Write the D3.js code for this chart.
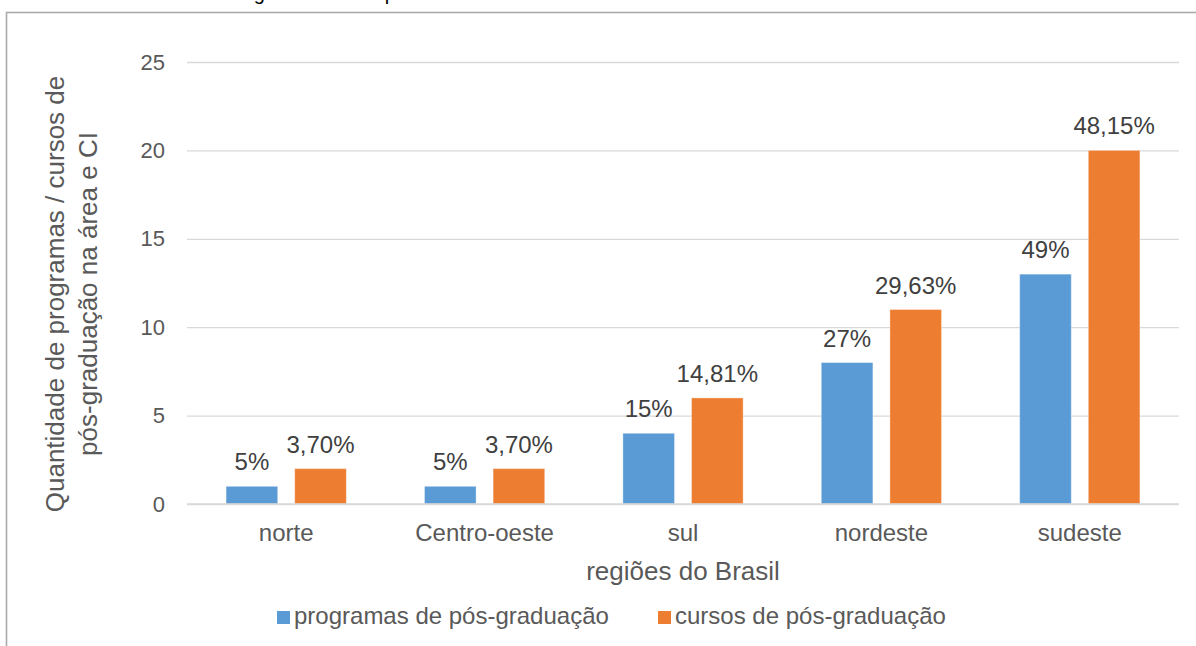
<!DOCTYPE html>
<html>
<head>
<meta charset="utf-8">
<script src="https://cdn.jsdelivr.net/npm/d3@7"></script>
<style>
  html, body { margin: 0; padding: 0; background: #fff; }
  svg { display: block; font-family: "Liberation Sans", Arial, sans-serif; }
</style>
</head>
<body>
<svg id="chart" width="1196" height="646"></svg>
<script>
const categories = ["norte", "Centro-oeste", "sul", "nordeste", "sudeste"];
const seriesNames = ["programas de pós-graduação", "cursos de pós-graduação"];
const programas = [1, 1, 4, 8, 13];
const cursos = [2, 2, 6, 11, 20];
const programasLabels = ["5%", "5%", "15%", "27%", "49%"];
const cursosLabels = ["3,70%", "3,70%", "14,81%", "29,63%", "48,15%"];
const yTicks = [0, 5, 10, 15, 20, 25];
const colors = ["#5B9BD5", "#ED7D31"];
const titleText = "Cursos e Programas em CI por área";
const yTitleLines = ["Quantidade de programas / cursos de", "pós-graduação na área e CI"];
const xTitle = "regiões do Brasil";

const svg = d3.select("#chart");

// outer frame (chart area border, cut off at right/bottom)
svg.append("rect")
  .attr("x", 6.5).attr("y", 12.5)
  .attr("width", 1300).attr("height", 800)
  .attr("fill", "none").attr("stroke", "#ababab").attr("stroke-width", 1.6);

// clipped title fragment above the frame (only descenders visible, as in the reference)
svg.append("text")
  .attr("x", 137).attr("y", -0.5)
  .attr("font-size", 20).attr("fill", "#000")
  .text(titleText);

const plot = { left: 187, right: 1179, top: 62, bottom: 504 };

const x0 = d3.scaleBand().domain(categories)
  .range([plot.left, plot.right])
  .paddingInner(0.394).paddingOuter(0.197);
const x1 = d3.scaleBand().domain(seriesNames)
  .range([0, x0.bandwidth()])
  .paddingInner(0.248).paddingOuter(0);
const y = d3.scaleLinear().domain([0, 25]).range([plot.bottom, plot.top]);

// grid + y labels
const yAxis = d3.axisLeft(y).tickValues(yTicks)
  .tickSize(-(plot.right - plot.left)).tickPadding(22);
const gy = svg.append("g").attr("transform", `translate(${plot.left},0)`).call(yAxis);
gy.select(".domain").remove();
gy.selectAll(".tick line").attr("stroke", "#d9d9d9").attr("stroke-width", 1.3);
gy.selectAll(".tick text").attr("fill", "#595959").attr("font-size", 22)
  .attr("font-family", "Liberation Sans, Arial, sans-serif");

// bars
const data = categories.map((c, i) => ({
  cat: c,
  vals: [
    { s: seriesNames[0], v: programas[i], label: programasLabels[i], color: colors[0] },
    { s: seriesNames[1], v: cursos[i], label: cursosLabels[i], color: colors[1] }
  ]
}));

const groups = svg.append("g").selectAll("g").data(data).join("g")
  .attr("transform", d => `translate(${x0(d.cat)},0)`);

groups.selectAll("rect").data(d => d.vals).join("rect")
  .attr("x", d => x1(d.s))
  .attr("y", d => y(d.v))
  .attr("width", x1.bandwidth())
  .attr("height", d => y(0) - y(d.v))
  .attr("fill", d => d.color)
  .attr("stroke", "#ffffff").attr("stroke-opacity", 0.35).attr("stroke-width", 1);

groups.selectAll("text.lbl").data(d => d.vals).join("text")
  .attr("class", "lbl")
  .attr("x", d => x1(d.s) + x1.bandwidth() / 2)
  .attr("y", d => y(d.v) - 16)
  .attr("text-anchor", "middle")
  .attr("font-size", 24).attr("fill", "#404040")
  .text(d => d.label);

// baseline axis line
svg.append("line")
  .attr("x1", plot.left).attr("x2", plot.right)
  .attr("y1", y(0)).attr("y2", y(0))
  .attr("stroke", "#d9d9d9").attr("stroke-width", 1.5);

// category labels
svg.append("g").selectAll("text").data(categories).join("text")
  .attr("x", d => x0(d) + x0.bandwidth() / 2)
  .attr("y", 541)
  .attr("text-anchor", "middle")
  .attr("font-size", 24).attr("fill", "#595959")
  .text(d => d);

// x title
svg.append("text")
  .attr("x", (plot.left + plot.right) / 2).attr("y", 580)
  .attr("text-anchor", "middle")
  .attr("font-size", 26).attr("fill", "#595959")
  .text(xTitle);

// y title
const yt = svg.append("text")
  .attr("transform", "translate(64,294) rotate(-90)")
  .attr("text-anchor", "middle")
  .attr("font-size", 26).attr("fill", "#595959");
yt.selectAll("tspan").data(yTitleLines).join("tspan")
  .attr("x", 0).attr("y", (d, i) => i * 33)
  .text(d => d);

// legend
const legend = svg.append("g");
const legendX = [277, 658];
seriesNames.forEach((s, i) => {
  const g = legend.append("g").attr("transform", `translate(${legendX[i]},0)`);
  g.append("rect").attr("x", 0).attr("y", 611).attr("width", 13).attr("height", 13)
    .attr("fill", colors[i]);
  g.append("text").attr("x", 17).attr("y", 624)
    .attr("font-size", 24).attr("fill", "#595959").text(s);
});
</script>
</body>
</html>
